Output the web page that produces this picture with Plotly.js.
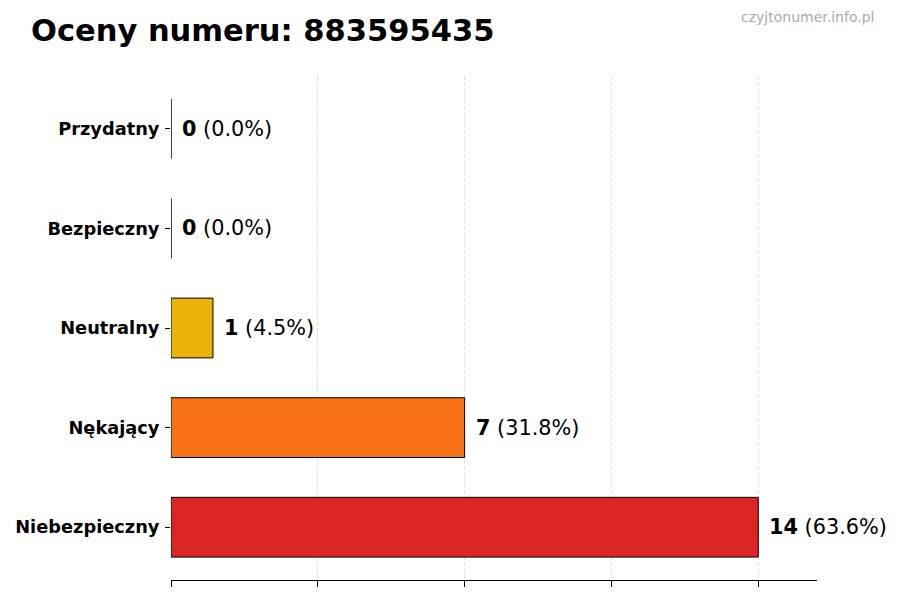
<!DOCTYPE html>
<html>
<head>
<meta charset="utf-8">
<script src="https://cdn.plot.ly/plotly-3.0.1.min.js"></script>
<style>
  html, body { margin: 0; padding: 0; background: #ffffff; }
  #plot { width: 900px; height: 600px; }
</style>
</head>
<body>
<div id="plot"></div>
<script>
// bottom to top, as in the picture
const categories = ["Niebezpieczny", "Nękający", "Neutralny", "Bezpieczny", "Przydatny"];
const counts = [14, 7, 1, 0, 0];
const barColors = ["#dc2626", "#f97316", "#eab308", "#22c55e", "#3b82f6"];
const gridTicks = [0, 3.5, 7, 10.5, 14];

const FONT = "DejaVu Sans, Noto Sans, sans-serif";
const total = counts.reduce((a, b) => a + b, 0);

// plot area in pixels
const L = 171, R = 83, T = 76, B = 20;
const pw = 900 - L - R, ph = 600 - T - B;

const trace = {
  type: "bar",
  orientation: "h",
  x: counts,
  y: categories,
  width: 0.6,
  marker: {
    color: barColors,
    line: { color: "#000000", width: 1 },
  },
  hoverinfo: "skip",
};

const labels = counts.map((v, i) => ({
  x: v,
  y: categories[i],
  xref: "x",
  yref: "y",
  xanchor: "left",
  yanchor: "middle",
  xshift: 9,
  showarrow: false,
  text: `<b>${v}</b> (${((v / total) * 100).toFixed(1)}%)`,
  font: { family: FONT, size: 20.8, color: "#000000" },
}));

labels.push({
  x: (876 - L) / pw,
  y: (600 - B - 17.5) / ph,
  xref: "paper",
  yref: "paper",
  xanchor: "right",
  yanchor: "middle",
  showarrow: false,
  text: "czyjtonumer.info.pl",
  font: { family: FONT, size: 14, color: "#aaaaaa" },
});

const layout = {
  width: 900,
  height: 600,
  paper_bgcolor: "#ffffff",
  plot_bgcolor: "#ffffff",
  margin: { l: L, r: R, t: T, b: B },
  showlegend: false,
  title: {
    text: "<b>Oceny numeru: 883595435</b>",
    font: { family: FONT, size: 30.5, color: "#000000" },
    xref: "container",
    yref: "container",
    x: 31 / 900,
    xanchor: "left",
    y: 1 - 30 / 600,
    yanchor: "middle",
  },
  xaxis: {
    range: [0, 15.4],
    tickvals: gridTicks,
    showticklabels: false,
    ticks: "outside",
    ticklen: 6,
    tickcolor: "#000000",
    showline: true,
    linecolor: "#000000",
    linewidth: 1,
    showgrid: true,
    gridcolor: "#e0e0e0",
    griddash: "4px,2px",
    gridwidth: 1,
    zeroline: false,
    fixedrange: true,
  },
  yaxis: {
    range: [-0.53, 4.53],
    ticks: "outside",
    ticklen: 5,
    tickcolor: "#000000",
    ticklabelstandoff: 2,
    showline: false,
    showgrid: false,
    zeroline: false,
    tickfont: { family: FONT, size: 17.8, color: "#000000", weight: "bold" },
    fixedrange: true,
  },
  annotations: labels,
};

Plotly.newPlot("plot", [trace], layout, { displayModeBar: false, staticPlot: true });
</script>
</body>
</html>
